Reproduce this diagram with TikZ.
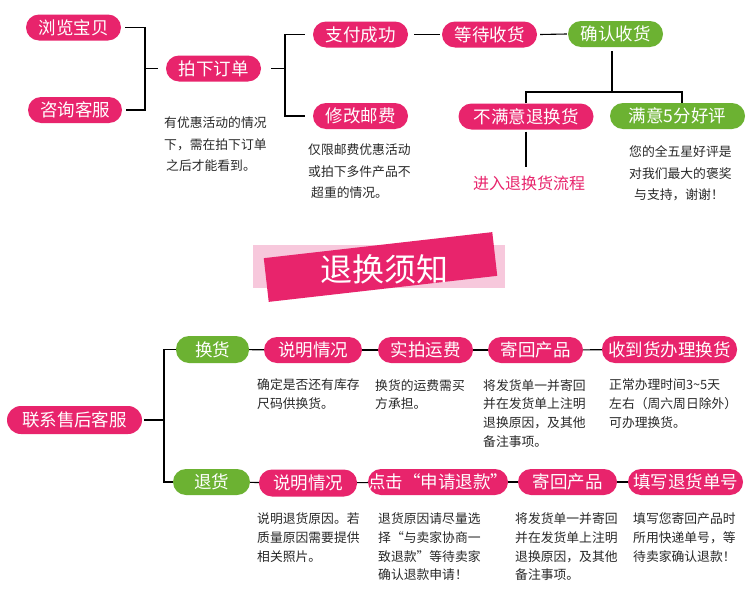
\documentclass[tikz,border=0pt]{standalone}
\usepackage{fontspec}
\setmainfont{Noto Sans CJK SC}
\definecolor{pk}{RGB}{232,36,108}
\definecolor{gr}{RGB}{108,178,50}
\definecolor{lpk}{RGB}{247,200,220}
\definecolor{txt}{RGB}{40,40,40}
\begin{document}
\begin{tikzpicture}[x=1pt,y=-1pt,
 pill/.style={fill=pk, text=white, rounded corners=13pt, minimum height=26pt, inner sep=0pt, font=\fontsize{17.5}{20}\selectfont},
 gpill/.style={pill, fill=gr},
 note/.style={anchor=north west, align=left, inner sep=0pt, text=txt, font=\fontsize{12.8}{21.5}\selectfont},
 noteb/.style={note, font=\fontsize{12.8}{18.7}\selectfont},
 link/.style={draw=black, line width=1.1pt}]
\fill[white] (0,0) rectangle (750,597);
\useasboundingbox (0,0) rectangle (750,597);

% ---------- top flow ----------
\node[pill, minimum width=95pt] (n1) at (73.5,27.5) {浏览宝贝};
\node[pill, minimum width=94pt] (n2) at (75,110) {咨询客服};
\node[pill, minimum width=95pt] (n3) at (213.5,68.5) {拍下订单};
\node[pill, minimum width=95pt] (n4) at (360.5,34.5) {支付成功};
\node[pill, minimum width=95pt] (n5) at (360.5,116) {修改邮费};
\node[pill, minimum width=95pt] (n6) at (489.5,34.5) {等待收货};
\node[gpill, minimum width=95pt] (n7) at (615.5,34) {确认收货};
\node[pill, minimum width=135pt] (n8) at (526,116.5) {不满意退换货};
\node[gpill, minimum width=135pt] (n9) at (677.5,116) {满意5分好评};
\node[text=pk, inner sep=0pt, font=\fontsize{16}{18}\selectfont] (flow) at (529,183) {进入退换货流程};

\coordinate (j1) at (145,68.5);
\coordinate (j2) at (285,68.5);
\coordinate (j3) at (612,92);
\coordinate (ja) at (526,92);
\coordinate (jb) at (682,92);

\draw[link] ([xshift=4pt]n1.east) -| (j1) |- ([xshift=4pt]n2.east);
\draw[link] (j1) -- ([xshift=-8pt]n3.west);
\draw[link] ([xshift=10pt]n3.east) -- (j2);
\draw[link] ([xshift=-8pt]n4.west) -| (j2) |- ([xshift=-8pt]n5.west);
\draw[link] ([xshift=6pt]n4.east) -- ([xshift=-2pt]n6.west);
\draw[link] ([xshift=3pt]n6.east) -- ([xshift=-1pt]n7.west);
\draw[link] ([shift={(-3.5,4)}]n7.south) -- (j3);
\draw[link] (n8.north -| ja) -- (ja) -- (jb) -- (n9.north -| jb);
\draw[link, shorten <=2pt, shorten >=8pt] (n8.south) -- (n8.south |- flow.north);

\node[note] (t1) at (164,116.8) {有优惠活动的情况\\下，需在拍下订单\\\hspace{2pt}之后才能看到。};
\node[note] (t2) at (308,143.8) {仅限邮费优惠活动\\或拍下多件产品不\\\hspace{3pt}超重的情况。};
\node[note] (t3) at (629,145.6) {您的全五星好评是\\对我们最大的褒奖\\\hspace{5pt}与支持，谢谢！};

% ---------- banner ----------
\fill[lpk] (253,245) rectangle (505,288);
\node[fill=pk, minimum width=230pt, minimum height=44pt, inner sep=0pt, rotate=6.5] (ban) at (380.5,267) {};
\node[text=white, inner sep=0pt, font=\fontsize{32}{36}\selectfont] (bant) at (384,269) {退换须知};

% ---------- bottom flow ----------
\node[pill, minimum width=135pt, minimum height=28pt, rounded corners=14pt] (b0) at (74.5,420) {联系售后客服};
\node[gpill, minimum width=73pt, minimum height=27pt] (b1) at (212.5,349.5) {换货};
\node[pill, minimum width=98pt] (b2) at (313,350) {说明情况};
\node[pill, minimum width=95pt] (b3) at (425.5,350) {实拍运费};
\node[pill, minimum width=95pt] (b4) at (535.5,350) {寄回产品};
\node[pill, minimum width=135pt, minimum height=27pt] (b5) at (669.5,349.5) {收到货办理换货};

\node[gpill, minimum width=77pt] (c1) at (211.5,482) {退货};
\node[pill, minimum width=98pt, minimum height=27pt] (c2) at (308,483) {说明情况};
\node[pill, minimum width=140pt] (c3) at (438,482) {点击“申请退款”};
\node[pill, minimum width=99pt] (c4) at (567.5,482) {寄回产品};
\node[pill, minimum width=115pt] (c5) at (685.5,482) {填写退货单号};

\coordinate (j4) at (164,420);
\draw[link] ([xshift=2pt]b0.east) -- (j4);
\draw[link] (b1.west) -| (j4) |- (c1.west);
\draw[link] (b1) -- (b2);
\draw[link] (b2) -- (b3);
\draw[link] (b3) -- (b4);
\draw[link] (b4) -- (b5);
\draw[link] (c1) -- (c2);
\draw[link] (c2) -- (c3);
\draw[link] (c3) -- (c4);
\draw[link] (c4) -- (c5);

\node[noteb] (u2) at (257,378.3) {确定是否还有库存\\尺码供换货。};
\node[noteb] (u3) at (375,379.0) {换货的运费需买\\方承担。};
\node[noteb] (u4) at (483,379.0) {将发货单一并寄回\\并在发货单上注明\\退换原因，及其他\\备注事项。};
\node[noteb] (u5) at (609,379.0) {正常办理时间3\textasciitilde5天\\左右（周六周日除外）\\可办理换货。};

\node[noteb] (v2) at (257,512.6) {说明退货原因。若\\质量原因需要提供\\相关照片。};
\node[noteb] (v3) at (378,512.6) {退货原因请尽量选\\择“与卖家协商一\\致退款”等待卖家\\确认退款申请！};
\node[noteb] (v4) at (515,512.6) {将发货单一并寄回\\并在发货单上注明\\退换原因，及其他\\备注事项。};
\node[noteb] (v5) at (633,512.6) {填写您寄回产品时\\所用快递单号，等\\待卖家确认退款！};
\end{tikzpicture}
\end{document}
